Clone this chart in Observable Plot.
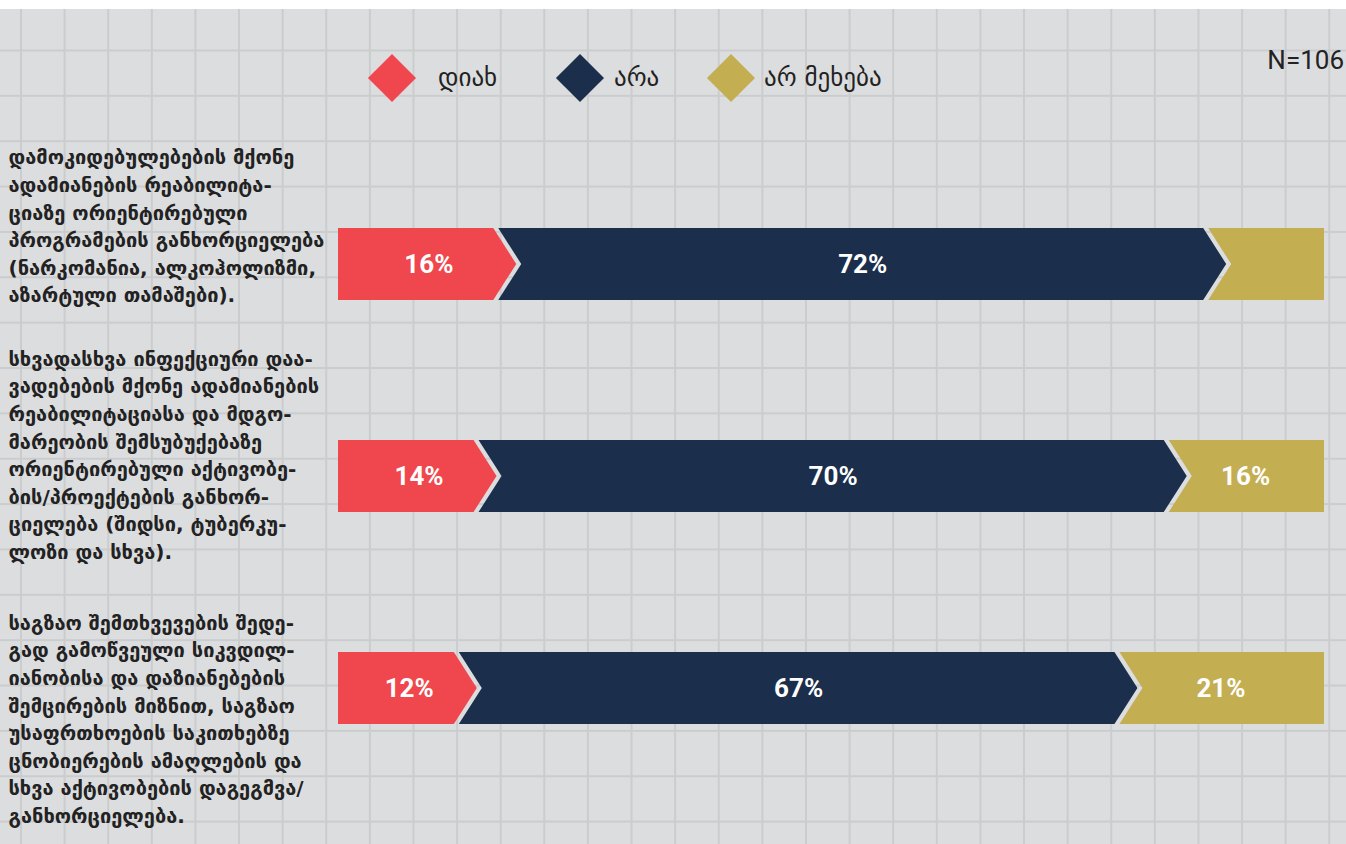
<!DOCTYPE html>
<html><head><meta charset="utf-8">
<script src="https://cdn.jsdelivr.net/npm/d3@7"></script>
<script src="https://cdn.jsdelivr.net/npm/@observablehq/plot@0.6"></script>
<style>
html,body{margin:0;padding:0;background:#fff;}
#wrap{position:relative;margin-top:9px;width:1346px;height:835px;overflow:hidden;background-color:#dcdddf;
background-image:linear-gradient(to right,#cbccce 1.5px,transparent 1.5px),linear-gradient(to bottom,#cbccce 1.5px,transparent 1.5px);
background-size:43.62px 45.37px;background-position:20px 40.5px;}
#legend{position:relative;height:111px;}
.dia{position:absolute;width:34px;height:34px;transform:rotate(45deg);top:52px;}
.lt{position:absolute;top:54px;height:30px;line-height:30px;font-family:"DejaVu Sans",sans-serif;font-size:25px;color:#222;white-space:nowrap;}
#n{position:absolute;right:2px;top:36px;line-height:30px;font-family:Roboto,sans-serif;font-size:26px;color:#222;}
#chart svg{display:block;}
#err{position:absolute;left:400px;top:300px;color:red;font:14px monospace;}
</style></head>
<body>
<div id="wrap">
<div id="legend"></div>
<div id="chart"></div>
<div id="err"></div>
</div>
<script>
const categories = [
  "დამოკიდებულებების მქონე\nადამიანების რეაბილიტა-\nციაზე ორიენტირებული\nპროგრამების განხორციელება\n(ნარკომანია, ალკოჰოლიზმი,\nაზარტული თამაშები).",
  "სხვადასხვა ინფექციური დაა-\nვადებების მქონე ადამიანების\nრეაბილიტაციასა და მდგო-\nმარეობის შემსუბუქებაზე\nორიენტირებული აქტივობე-\nბის/პროექტების განხორ-\nციელება (შიდსი, ტუბერკუ-\nლოზი და სხვა).",
  "საგზაო შემთხვევების შედე-\nგად გამოწვეული სიკვდილ-\nიანობისა და დაზიანებების\nშემცირების მიზნით, საგზაო\nუსაფრთხოების საკითხებზე\nცნობიერების ამაღლების და\nსხვა აქტივობების დაგეგმვა/\nგანხორციელება."
];
const answers = ["დიახ", "არა", "არ მეხება"];
const colors = ["#ef474d", "#1b2e4b", "#c4ae52"];
const yesValues = [16, 14, 12];
const noValues = [72, 70, 67];
const naValues = [12, 16, 21];
const labelShown = [[true, true, false], [true, true, true], [true, true, true]];
const sampleNote = "N=106";

const errBox = document.getElementById("err");
try {
// legend
const legend = document.getElementById("legend");
const diaX = [392, 580, 731], txtX = [438, 614, 764];
answers.forEach((a, i) => {
  const d = document.createElement("div"); d.className = "dia";
  d.style.left = (diaX[i] - 17) + "px"; d.style.background = colors[i]; legend.appendChild(d);
  const t = document.createElement("div"); t.className = "lt"; t.style.left = txtX[i] + "px"; t.textContent = a; legend.appendChild(t);
});
const n = document.createElement("div"); n.id = "n"; n.textContent = sampleNote; legend.appendChild(n);

// rows
const series = [yesValues, noValues, naValues];
const rows = [];
categories.forEach((c, ci) => {
  let acc = 0;
  series.forEach((s, si) => {
    rows.push({item: c, answer: answers[si], value: s[ci], x1: acc, x2: acc + s[ci],
      first: si === 0, last: si === series.length - 1, show: labelShown[ci][si]});
    acc += s[ci];
  });
});

const GAP = 5, TIP = 23;
function chevrons(index, scales) {
  const X = scales.x, Y = scales.y;
  const bw = typeof Y.bandwidth === "function" ? Y.bandwidth() : Y.bandwidth;
  const g = d3.create("svg:g");
  for (const r of rows) {
    let L = X(r.x1), R = X(r.x2);
    const top = Y(r.item), bot = top + bw, mid = top + bw / 2;
    if (!r.first) L += GAP / 2;
    if (!r.last) R -= GAP / 2;
    const pts = [[L, top], [R, top]];
    if (!r.last) pts.push([R + TIP, mid]);
    pts.push([R, bot], [L, bot]);
    if (!r.first) pts.push([L + TIP, mid]);
    g.append("path").attr("d", "M" + pts.map(p => p.join(",")).join("L") + "Z").attr("fill", colors[answers.indexOf(r.answer)]);
  }
  return g.node();
}

const labelOffsets = [-40, -23, 29];
const chart = Plot.plot({
  width: 1346, height: 724,
  marginLeft: 338, marginRight: 22, marginTop: 2, marginBottom: 14,
  x: {domain: [0, 100], axis: null},
  y: {type: "band", domain: categories, axis: null, paddingInner: 1 - 72 / 212, paddingOuter: 0.5, align: 0.5},
  style: {background: "transparent", overflow: "visible"},
  marks: [
    chevrons,
    Plot.text(rows.filter(d => d.show && !d.last), {x: d => (d.x1 + d.x2) / 2, y: "item", text: d => d.value + "%",
      dx: TIP / 2, fill: "white", fontSize: 26, fontWeight: "bold", fontFamily: "Roboto"}),
    Plot.text(rows.filter(d => d.show && d.last), {x: d => (d.x1 + d.x2) / 2, y: "item", text: d => d.value + "%",
      fill: "white", fontSize: 26, fontWeight: "bold", fontFamily: "Roboto"}),
    ...categories.map((c, i) => Plot.text([c], {y: d => d, text: d => d, frameAnchor: "left", dx: -330, dy: labelOffsets[i],
      textAnchor: "start", lineAnchor: "middle", lineHeight: 27.6 / 20, fontSize: 20, fontWeight: "bold",
      fontFamily: "DejaVu Sans", fill: "#222"}))
  ]
});
document.getElementById("chart").appendChild(chart);
} catch (e) { errBox.textContent = String(e && e.stack || e); }
</script>
</body></html>
